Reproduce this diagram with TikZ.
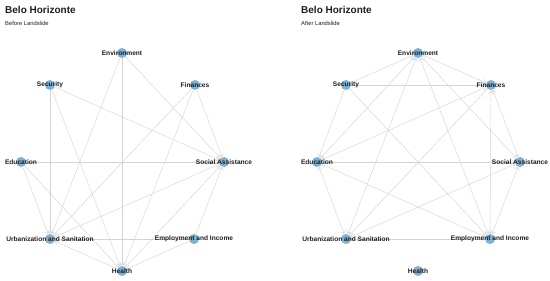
\documentclass[tikz,border=0pt]{standalone}
\usepackage{fontspec}
\setmainfont{Liberation Sans}
\usetikzlibrary{arrows.meta, backgrounds}
\definecolor{topicblue}{RGB}{128,176,210}
\definecolor{linkgray}{RGB}{212,212,212}
\definecolor{inkgray}{RGB}{30,30,30}

\begin{document}
\begin{tikzpicture}[
    x=1pt, y=-1pt,
    >={Straight Barb[length=3pt,width=5pt]},
    topic/.style={circle, fill=topicblue, minimum size=10pt, inner sep=0pt},
    tag/.style={font=\fontsize{6.6}{7}\selectfont\bfseries, text=inkgray, inner sep=0pt},
    heading/.style={font=\fontsize{10}{12}\selectfont\bfseries, text=inkgray, anchor=base west, inner sep=0pt},
    subheading/.style={font=\fontsize{5.8}{7}\selectfont, text=inkgray, anchor=base west, inner sep=0pt},
    link/.style={draw=linkgray, line width=0.45pt, ->},
    twoway/.style={draw=linkgray, line width=0.45pt, <->}
]
\useasboundingbox (0,0) rectangle (550,281);

% Titles
\node[heading] (titleB) at (5,13) {Belo Horizonte};
\node[subheading] (subB) at (5,26) {Before Landslide};
\node[heading] (titleA) at (301,13) {Belo Horizonte};
\node[subheading] (subA) at (301,26) {After Landslide};

% Nodes, before landslide
\node[topic] (envB) at (122,53) {};
\node[topic] (secB) at (50,85) {};
\node[topic] (finB) at (195,85) {};
\node[topic] (eduB) at (21,162) {};
\node[topic] (socB) at (224,162) {};
\node[topic] (urbB) at (50,239) {};
\node[topic] (empB) at (194,239) {};
\node[topic] (heaB) at (122,271) {};

% Nodes, after landslide
\node[topic] (envA) at (418,53) {};
\node[topic] (secA) at (346,85) {};
\node[topic] (finA) at (491,85) {};
\node[topic] (eduA) at (317,162) {};
\node[topic] (socA) at (520,162) {};
\node[topic] (urbA) at (346,239) {};
\node[topic] (empA) at (490,239) {};
\node[topic] (heaA) at (418,271) {};

% Links, before landslide
\begin{scope}[on background layer]
\draw[link] (envB) -- (urbB);
\draw[link] (envB) -- (heaB);
\draw[link] (envB) -- (socB);
\draw[link] (secB) -- (urbB);
\draw[link] (secB) -- (heaB);
\draw[link] (secB) -- (socB);
\draw[link] (finB) -- (urbB);
\draw[link] (finB) -- (heaB);
\draw[link] (finB) -- (socB);
\draw[link] (eduB) -- (socB);
\draw[link] (eduB) -- (urbB);
\draw[link] (eduB) -- (heaB);
\draw[twoway] (socB) -- (urbB);
\draw[link] (heaB) -- (urbB);
\draw[link] (empB) -- (urbB);
\draw[link] (empB) -- (heaB);
\draw[link] (empB) -- (socB);
\draw[link] (heaB) -- (socB);

% Links, after landslide
\draw[link] (secA) -- (envA);
\draw[link] (secA) -- (finA);
\draw[twoway] (finA) -- (envA);
\draw[twoway] (envA) -- (eduA);
\draw[twoway] (envA) -- (urbA);
\draw[twoway] (envA) -- (empA);
\draw[link] (envA) -- (socA);
\draw[link] (secA) -- (eduA);
\draw[link] (secA) -- (empA);
\draw[twoway] (finA) -- (eduA);
\draw[link] (finA) -- (urbA);
\draw[twoway] (empA) -- (finA);
\draw[twoway] (finA) -- (socA);
\draw[link] (eduA) -- (socA);
\draw[twoway] (eduA) -- (urbA);
\draw[twoway] (eduA) -- (empA);
\draw[twoway] (socA) -- (urbA);
\draw[link] (urbA) -- (empA);
\draw[twoway] (socA) -- (empA);
\end{scope}

% Labels
\node[tag] (envBt) at (envB) {Environment};
\node[tag] (secBt) at (secB) {Security};
\node[tag] (finBt) at (finB) {Finances};
\node[tag] (eduBt) at (eduB) {Education};
\node[tag] (socBt) at (socB) {Social Assistance};
\node[tag] (urbBt) at (urbB) {Urbanization and Sanitation};
\node[tag] (empBt) at (empB) {Employment and Income};
\node[tag] (heaBt) at (heaB) {Health};

\node[tag] (envAt) at (envA) {Environment};
\node[tag] (secAt) at (secA) {Security};
\node[tag] (finAt) at (finA) {Finances};
\node[tag] (eduAt) at (eduA) {Education};
\node[tag] (socAt) at (socA) {Social Assistance};
\node[tag] (urbAt) at (urbA) {Urbanization and Sanitation};
\node[tag] (empAt) at (empA) {Employment and Income};
\node[tag] (heaAt) at (heaA) {Health};

\end{tikzpicture}
\end{document}
